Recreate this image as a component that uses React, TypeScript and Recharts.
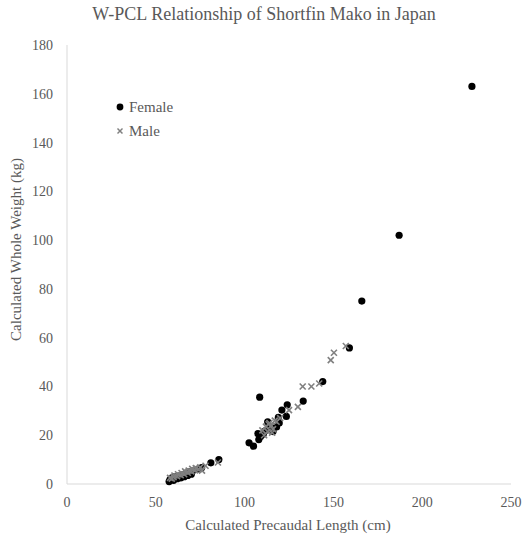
import React from "react";
import { ScatterChart, Scatter, XAxis, YAxis, Legend } from "recharts";

const title = "W-PCL Relationship of Shortfin Mako in Japan";
const xTitle = "Calculated Precaudal Length (cm)";
const yTitle = "Calculated Whole Weight (kg)";
const xTicks = [0, 50, 100, 150, 200, 250];
const yTicks = [0, 20, 40, 60, 80, 100, 120, 140, 160, 180];

const femalePCL = [57.5, 58, 59, 60, 61, 62, 63, 64, 65, 66, 67, 68, 69, 70, 71, 74, 75.8, 81, 85.5, 102.5, 105, 107.5, 108, 108.5, 109, 110.5, 111, 112, 113, 114, 115, 116, 118, 119, 119.5, 121, 123.5, 124, 133, 144, 159, 166, 187, 228];
const femaleW = [1, 1.8, 2.5, 1.5, 3, 2.2, 3.2, 2.5, 3.8, 3, 4.5, 3.5, 5, 4, 5.5, 6.2, 6.7, 8.7, 10, 16.9, 15.5, 20.7, 18.2, 35.6, 19.5, 20.4, 21.5, 22, 25.5, 23.5, 23, 21.5, 23.4, 27.3, 25, 30.3, 27.7, 32.5, 34, 42, 55.8, 75, 102, 163];

const malePCL = [58, 59, 60, 60.5, 62, 62.5, 64, 64.5, 66, 66.5, 68, 68.5, 70, 70.5, 72, 72.5, 74, 75, 76, 78, 85, 110, 111, 112, 113, 113.5, 114, 115, 115.5, 116, 117, 118, 120, 125, 130, 132.7, 137.6, 142, 148.5, 150.3, 157];
const maleW = [2.5, 2.2, 2.8, 3.5, 3.2, 4, 3.6, 4.5, 4, 5.2, 4.6, 5.5, 5.2, 6.2, 5.6, 6.5, 6, 6.8, 5.5, 7.5, 8.8, 22, 20, 23.5, 21.5, 24.5, 25, 24, 21, 22.5, 26, 25.5, 27, 30.3, 31.6, 40, 40, 41.2, 50.8, 53.8, 56.6];

const female = femalePCL.map((x, i) => ({ x, y: femaleW[i] }));
const male = malePCL.map((x, i) => ({ x, y: maleW[i] }));

const FONT = "Liberation Serif, Times New Roman, Times, DejaVu Serif, serif";
const TXT = "#595959";

const CrossShape = (props: any) => {
  const { cx, cy } = props;
  if (cx == null || cy == null) return null;
  const s = 3;
  return (
    <g stroke="#808080" strokeWidth={1.6}>
      <line x1={cx - s} y1={cy - s} x2={cx + s} y2={cy + s} />
      <line x1={cx - s} y1={cy + s} x2={cx + s} y2={cy - s} />
    </g>
  );
};

const DotShape = (props: any) => {
  const { cx, cy } = props;
  if (cx == null || cy == null) return null;
  return <circle cx={cx} cy={cy} r={3.6} fill="#000" />;
};

const LegendContent = () => (
  <div style={{ fontFamily: FONT, fontSize: 15, color: TXT, lineHeight: "24px" }}>
    <div style={{ display: "flex", alignItems: "center" }}>
      <svg width={10} height={10} style={{ marginRight: 4 }}>
        <circle cx={5} cy={5} r={3.4} fill="#000" />
      </svg>
      <span>Female</span>
    </div>
    <div style={{ display: "flex", alignItems: "center" }}>
      <svg width={10} height={10} style={{ marginRight: 4 }}>
        <g stroke="#808080" strokeWidth={1.5}>
          <line x1={2.5} y1={2.5} x2={7.5} y2={7.5} />
          <line x1={2.5} y1={7.5} x2={7.5} y2={2.5} />
        </g>
      </svg>
      <span>Male</span>
    </div>
  </div>
);

const YLabel = (props: any) => {
  const vb = props.viewBox || { x: 0, y: 45, width: 67, height: 439 };
  const x = vb.x + 16;
  const y = vb.y + vb.height / 2 - 15;
  return (
    <text
      x={x}
      y={y}
      transform={`rotate(-90, ${x}, ${y})`}
      textAnchor="middle"
      dominantBaseline="central"
      fontFamily={FONT}
      fontSize={15}
      fill={TXT}
    >
      {yTitle}
    </text>
  );
};

const XLabel = (props: any) => {
  const vb = props.viewBox || { x: 67, y: 484, width: 444, height: 53 };
  const x = vb.x + vb.width / 2 - 1;
  const y = 525;
  return (
    <text x={x} y={y} textAnchor="middle" dominantBaseline="central" fontFamily={FONT} fontSize={15} fill={TXT}>
      {xTitle}
    </text>
  );
};

export default function App() {
  return (
    <div style={{ position: "absolute", left: 0, top: 0, width: 528, height: 537, background: "#fff" }}>
      <div
        style={{
          position: "absolute",
          left: 0,
          top: 3,
          width: 528,
          textAlign: "center",
          fontFamily: FONT,
          fontSize: 18,
          color: TXT,
          lineHeight: "22px",
        }}
      >
        {title}
      </div>
      <ScatterChart width={528} height={537} margin={{ top: 45, right: 17, bottom: 0, left: 0 }}>
        <XAxis
          type="number"
          dataKey="x"
          domain={[0, 250]}
          ticks={xTicks}
          tickLine={false}
          tickSize={0}
          tickMargin={13}
          height={53}
          axisLine={{ stroke: "#d9d9d9" }}
          tick={{ fill: TXT, fontSize: 14, fontFamily: FONT }}
          label={<XLabel />}
        />
        <YAxis
          type="number"
          dataKey="y"
          domain={[0, 180]}
          ticks={yTicks}
          tickLine={false}
          tickSize={0}
          tickMargin={14}
          width={67}
          axisLine={{ stroke: "#d9d9d9" }}
          tick={{ fill: TXT, fontSize: 14, fontFamily: FONT }}
          label={<YLabel />}
        />
        <Legend
          layout="vertical"
          verticalAlign="middle"
          align="center"
          wrapperStyle={{ position: "absolute", left: 115, top: 95, width: "auto", height: "auto" }}
          content={<LegendContent />}
        />
        <Scatter name="Female" data={female} shape={<DotShape />} isAnimationActive={false} />
        <Scatter name="Male" data={male} shape={<CrossShape />} isAnimationActive={false} />
      </ScatterChart>
    </div>
  );
}
